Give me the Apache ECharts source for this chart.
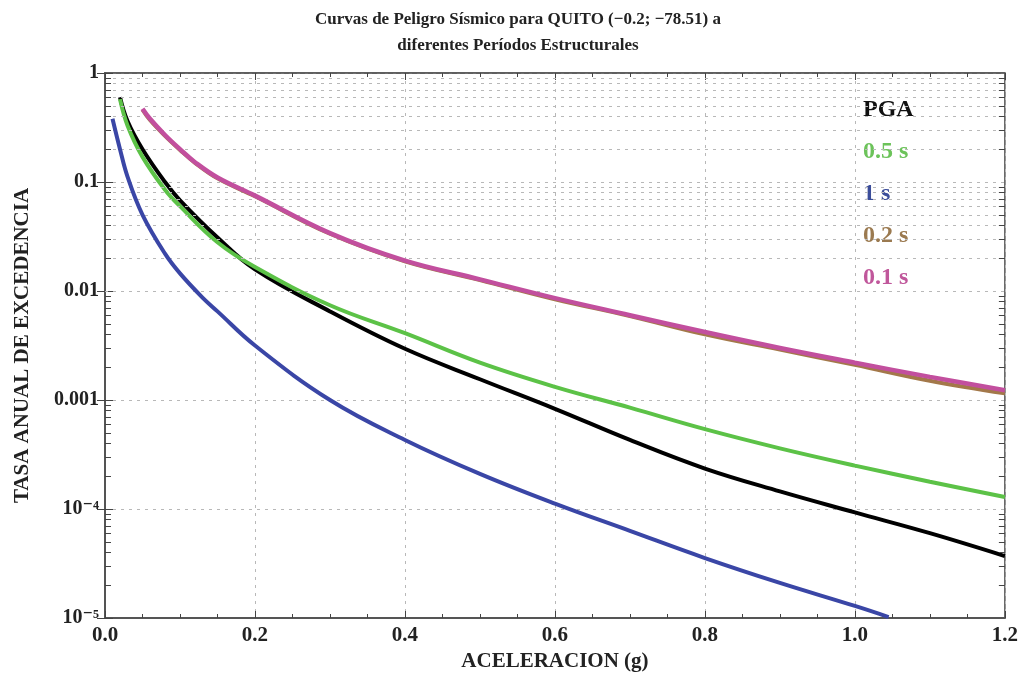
<!DOCTYPE html>
<html>
<head>
    <meta charset="utf-8">
    <title>Curvas de Peligro Sísmico</title>
    <script src="https://cdn.jsdelivr.net/npm/echarts@6/dist/echarts.min.js"></script>
</head>
<body style="margin:0">
    <div id="main" style="width: 1021px; height: 680px;"></div>
    <script>
        // datos (aceleración en g, tasa anual de excedencia)
        var accelPGA = [0.02, 0.03, 0.05, 0.08, 0.1, 0.15, 0.2, 0.3, 0.4, 0.5, 0.6, 0.7, 0.8, 0.9, 1.0, 1.1, 1.2]
        var ratePGA  = [0.6, 0.363, 0.2, 0.1, 0.068, 0.031, 0.0158, 0.0065, 0.00295, 0.00155, 0.00083, 0.00043, 0.000235, 0.000145, 0.000093, 0.00006, 0.000037]

        var accel05 = [0.02, 0.03, 0.05, 0.08, 0.1, 0.15, 0.2, 0.3, 0.4, 0.5, 0.6, 0.7, 0.8, 0.9, 1.0, 1.1, 1.2]
        var rate05  = [0.575, 0.33, 0.17, 0.085, 0.06, 0.028, 0.0166, 0.0074, 0.0041, 0.0022, 0.00132, 0.00085, 0.00054, 0.00036, 0.00025, 0.000178, 0.000129]

        var accel1 = [0.01, 0.02, 0.03, 0.05, 0.08, 0.1, 0.13, 0.15, 0.2, 0.3, 0.4, 0.5, 0.6, 0.7, 0.8, 0.9, 1.0, 1.045]
        var rate1  = [0.38, 0.2, 0.112, 0.05, 0.022, 0.0145, 0.0087, 0.0065, 0.00316, 0.001, 0.00043, 0.00021, 0.000112, 0.000063, 0.0000355, 0.000021, 0.0000129, 0.0000102]

        var accel02 = [0.05, 0.06, 0.08, 0.1, 0.12, 0.15, 0.2, 0.3, 0.4, 0.5, 0.6, 0.7, 0.8, 0.9, 1.0, 1.1, 1.2]
        var rate02  = [0.46, 0.37, 0.265, 0.197, 0.15, 0.108, 0.074, 0.0335, 0.0187, 0.0126, 0.0084, 0.0059, 0.004, 0.0029, 0.0021, 0.0015, 0.00115]

        var accel01 = [0.05, 0.06, 0.08, 0.1, 0.12, 0.15, 0.2, 0.3, 0.4, 0.5, 0.6, 0.7, 0.8, 0.9, 1.0, 1.1, 1.2]
        var rate01  = [0.47, 0.38, 0.27, 0.2, 0.152, 0.11, 0.075, 0.034, 0.019, 0.0128, 0.0086, 0.006, 0.0042, 0.003, 0.0022, 0.00163, 0.00123]

        var seriesNames = ['PGA', '0.5 s', '1 s', '0.2 s', '0.1 s']
        var yTickLabels = {1: '1', 0.1: '0.1', 0.01: '0.01', 0.001: '0.001', 0.0001: '10\u207b\u2074', 0.00001: '10\u207b\u2075'}

        var colors = ['#000000', '#5cc247', '#3a46a6', '#a3784a', '#c24f9e']
        var legendColors = ['#111111', '#6cc35a', '#3b4d9a', '#9b7a50', '#c0579b']
        var lineWidths = [4, 4, 4, 4, 4.5]
        var serif = '"Liberation Serif", "DejaVu Serif", serif'

        var zip = function(xs, ys) {
            var out = []
            for (var i = 0; i < xs.length; i++) {
                out.push([xs[i], ys[i]])
            }
            return out
        }

        // niveles de la rejilla logarítmica secundaria (2..9 x 10^k)
        var minorLevels = []
        for (var e = -5; e < 0; e++) {
            for (var m = 2; m <= 9; m++) {
                minorLevels.push(m * Math.pow(10, e))
            }
        }

        var gridLines = minorLevels.map(function(v) {
            return {yAxis: v}
        })
        var tickMarks = []
        minorLevels.forEach(function(v) {
            tickMarks.push([{coord: [0, v]}, {coord: [0.008, v]}])
            tickMarks.push([{coord: [1.192, v]}, {coord: [1.2, v]}])
        })

        var dataList = [zip(accelPGA, ratePGA), zip(accel05, rate05), zip(accel1, rate1), zip(accel02, rate02), zip(accel01, rate01)]

        var series = dataList.map(function(d, i) {
            return {
                name: seriesNames[i],
                type: 'line',
                smooth: 0.4,
                showSymbol: false,
                data: d,
                lineStyle: {width: lineWidths[i], color: colors[i]},
                itemStyle: {color: colors[i]},
                z: 3 + i
            }
        })
        // rejilla y marcas menores
        series.push({
            type: 'line',
            data: [],
            silent: true,
            markLine: {
                silent: true,
                symbol: 'none',
                label: {show: false},
                lineStyle: {type: [3, 5], color: '#b8b8b8', width: 1},
                data: gridLines
            },
            z: 1
        })
        series.push({
            type: 'line',
            data: [],
            silent: true,
            markLine: {
                silent: true,
                symbol: 'none',
                label: {show: false},
                lineStyle: {type: 'solid', color: '#444', width: 1},
                data: tickMarks
            },
            z: 2
        })

        var myChart = echarts.init(document.getElementById('main'))
        var option = {
            backgroundColor: '#ffffff',
            animation: false,
            title: {
                text: 'Curvas de Peligro Sísmico para QUITO (\u22120.2; \u221278.51) a\ndiferentes Períodos Estructurales',
                left: 513,
                textAlign: 'center',
                top: 2,
                textStyle: {
                    fontFamily: serif,
                    fontWeight: 'bold',
                    fontSize: 17,
                    lineHeight: 26,
                    color: '#222'
                }
            },
            legend: {
                orient: 'vertical',
                left: 853,
                top: 93,
                icon: 'none',
                itemWidth: 0,
                itemGap: 18,
                selectedMode: false,
                data: seriesNames.map(function(n, i) {
                    return {name: n, textStyle: {color: legendColors[i]}}
                }),
                textStyle: {
                    fontFamily: serif,
                    fontWeight: 'bold',
                    fontSize: 24
                }
            },
            grid: {
                left: 105,
                right: 16,
                top: 73,
                bottom: 62,
                show: true,
                borderColor: '#555',
                borderWidth: 1.5
            },
            xAxis: [{
                type: 'value',
                min: 0,
                max: 1.2,
                interval: 0.2,
                name: 'ACELERACION (g)',
                nameLocation: 'middle',
                nameGap: 33,
                nameTextStyle: {fontFamily: serif, fontWeight: 'bold', fontSize: 21, color: '#222'},
                axisLine: {show: true, lineStyle: {color: '#555', width: 2}},
                axisTick: {show: true, inside: true, length: 7, lineStyle: {color: '#444'}},
                minorTick: {show: true, splitNumber: 4, length: 4, lineStyle: {color: '#444'}},
                axisLabel: {
                    margin: 7,
                    fontFamily: serif,
                    fontWeight: 'bold',
                    fontSize: 21,
                    color: '#222',
                    formatter: function(v) {
                        return v.toFixed(1)
                    }
                },
                splitLine: {show: true, lineStyle: {type: [3, 5], color: '#b8b8b8'}}
            }, {
                type: 'value',
                position: 'top',
                min: 0,
                max: 1.2,
                interval: 0.2,
                axisLine: {show: true, lineStyle: {color: '#555', width: 1.5}},
                axisTick: {show: true, inside: true, length: 7, lineStyle: {color: '#444'}},
                minorTick: {show: true, splitNumber: 4, length: 4, lineStyle: {color: '#444'}},
                axisLabel: {show: false},
                splitLine: {show: false}
            }],
            yAxis: [{
                type: 'log',
                logBase: 10,
                min: 0.00001,
                max: 1,
                name: 'TASA ANUAL DE EXCEDENCIA',
                nameLocation: 'middle',
                nameRotate: 90,
                nameGap: 72,
                nameTextStyle: {fontFamily: serif, fontWeight: 'bold', fontSize: 21, color: '#222'},
                axisLine: {show: true, lineStyle: {color: '#555', width: 2}},
                axisTick: {show: true, inside: true, length: 8, lineStyle: {color: '#444'}},
                axisLabel: {
                    margin: 6,
                    fontFamily: serif,
                    fontWeight: 'bold',
                    fontSize: 20,
                    color: '#222',
                    formatter: function(v) {
                        for (var k in yTickLabels) {
                            if (Math.abs(Math.log10(v) - Math.log10(Number(k))) < 0.01) {
                                return yTickLabels[k]
                            }
                        }
                        return ''
                    }
                },
                splitLine: {show: true, lineStyle: {type: [3, 5], color: '#b8b8b8'}}
            }, {
                type: 'log',
                logBase: 10,
                min: 0.00001,
                max: 1,
                position: 'right',
                axisLine: {show: true, lineStyle: {color: '#555', width: 1.5}},
                axisTick: {show: true, inside: true, length: 8, lineStyle: {color: '#444'}},
                axisLabel: {show: false},
                splitLine: {show: false}
            }],
            series: series
        }
        myChart.setOption(option)
    </script>
</body>
</html>
